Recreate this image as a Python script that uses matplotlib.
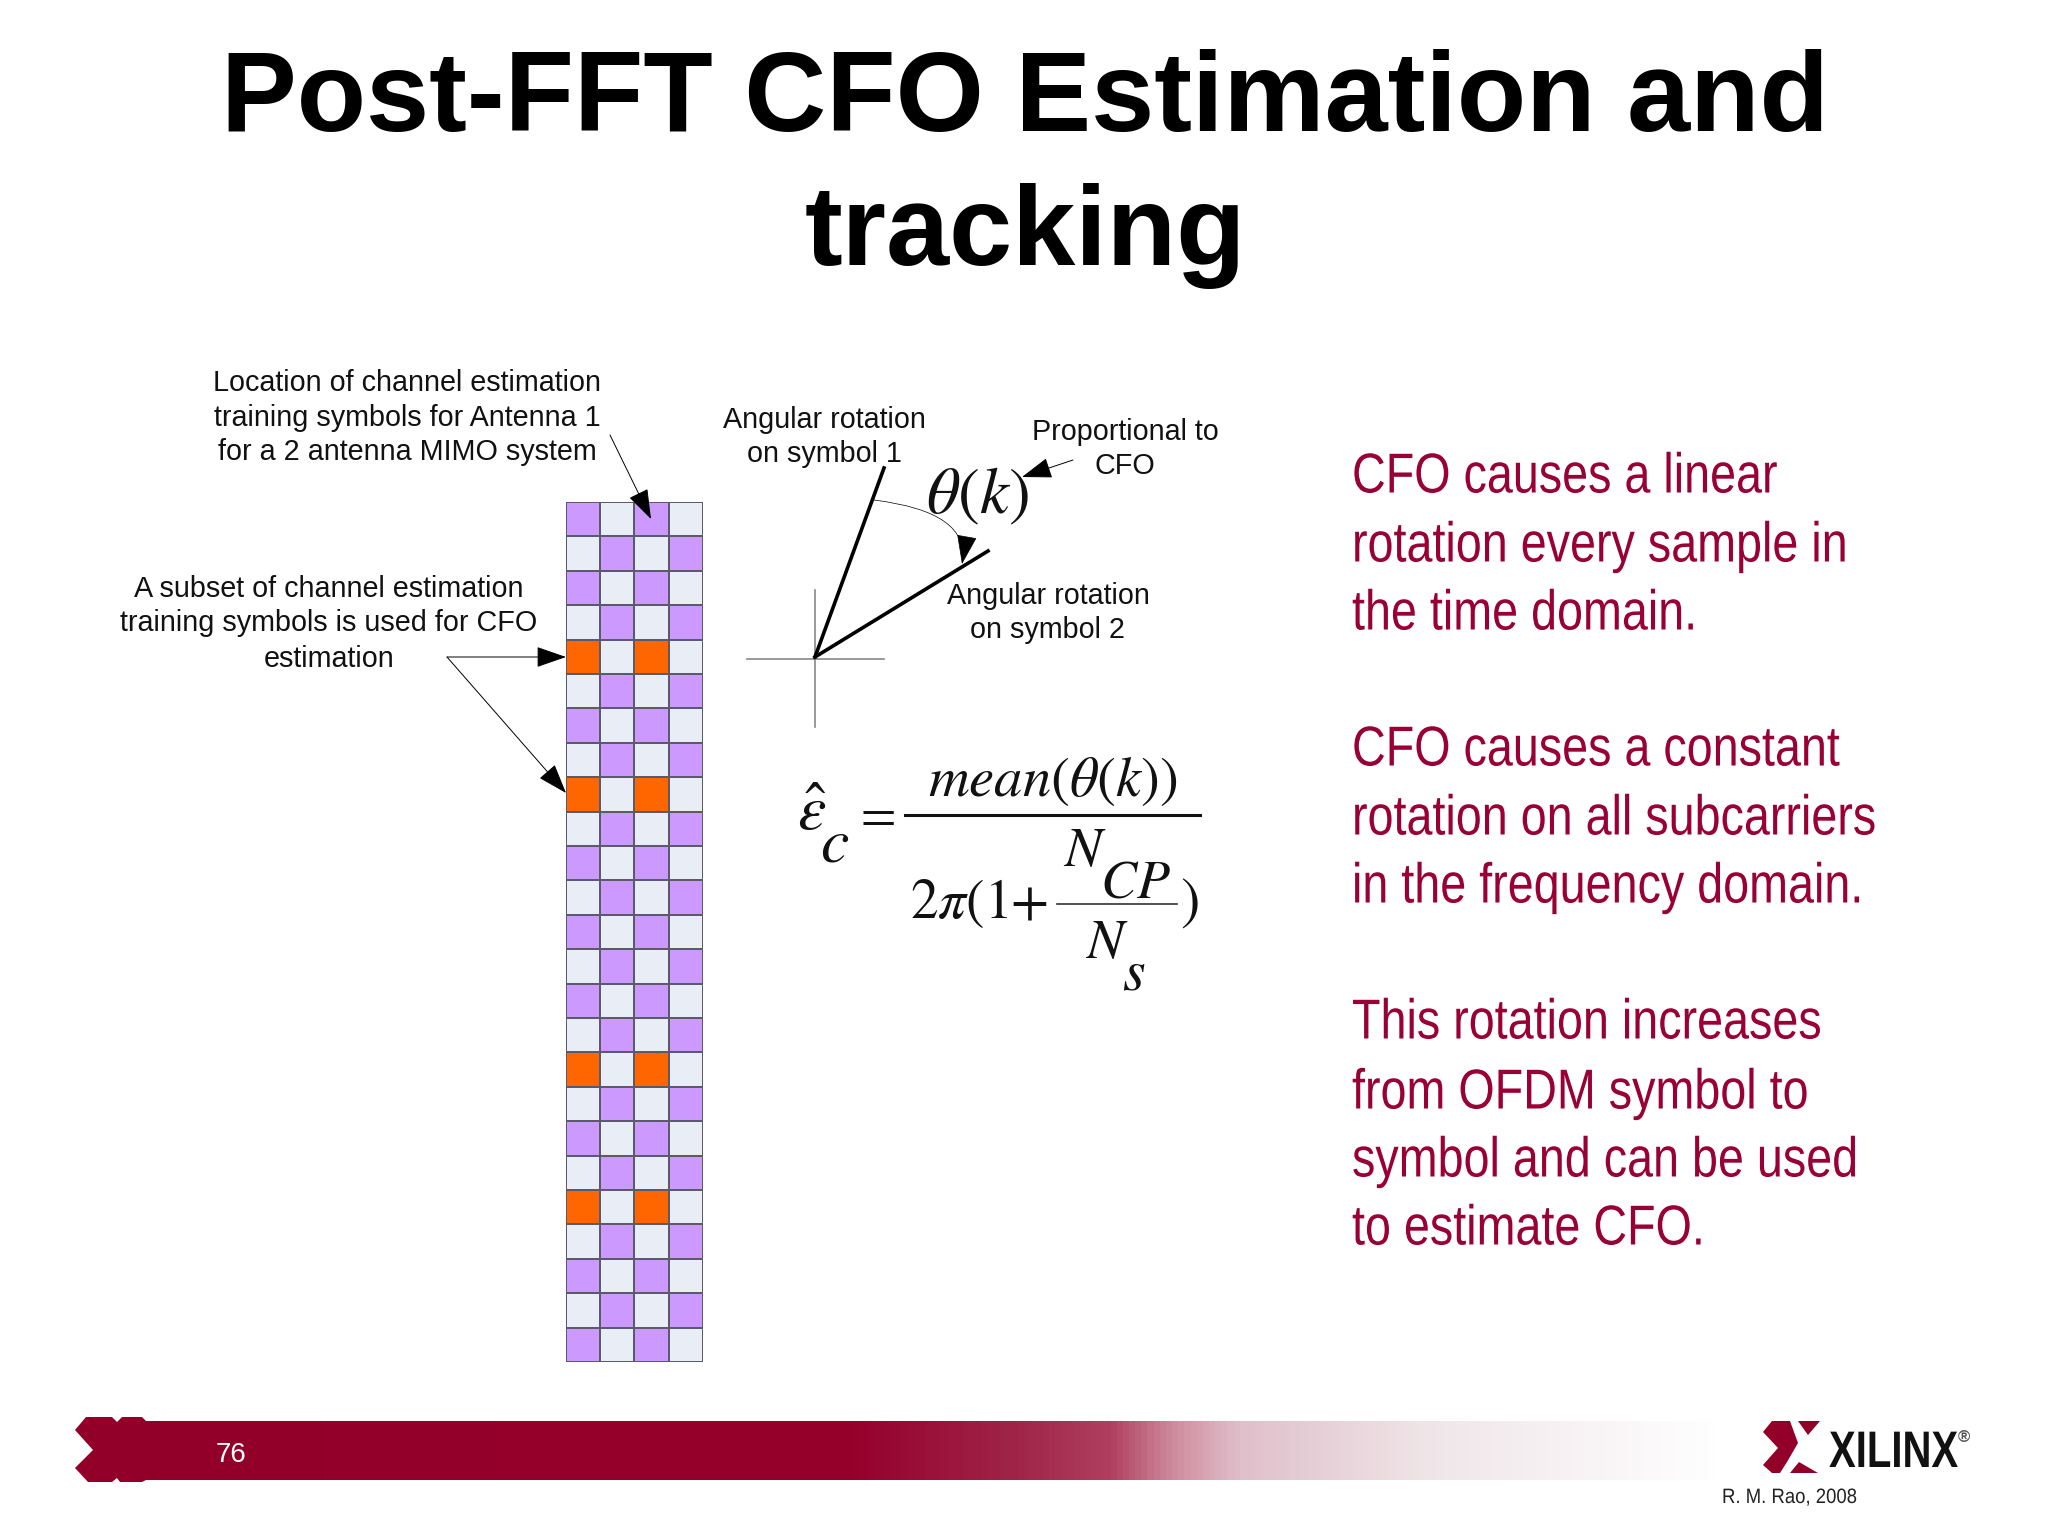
import numpy as np
import matplotlib
matplotlib.use("Agg")
import matplotlib.pyplot as plt
from matplotlib.colors import ListedColormap, LinearSegmentedColormap
from matplotlib.patheffects import AbstractPathEffect
from matplotlib.transforms import Affine2D

# symbol grid, P = pilot/purple, L = empty, O = used for CFO
grid_rows = ["PLPL", "LPLP", "PLPL", "LPLP", "OLOL", "LPLP", "PLPL", "LPLP", "OLOL",
             "LPLP", "PLPL", "LPLP", "PLPL", "LPLP", "PLPL", "LPLP", "OLOL", "LPLP",
             "PLPL", "LPLP", "OLOL", "LPLP", "PLPL", "LPLP", "PLPL"]
cell_colors = {"L": "#E9EDF6", "P": "#CC99FF", "O": "#FF6600"}

title_lines = ["Post-FFT CFO Estimation and", "tracking"]
red_lines = ["CFO causes a linear", "rotation every sample in", "the time domain.",
             "CFO causes a constant", "rotation on all subcarriers", "in the frequency domain.",
             "This rotation increases", "from OFDM symbol to", "symbol and can be used", "to estimate CFO."]
red_baselines = [492.5, 561.5, 629.5, 765.5, 834.5, 902.5, 1038.5, 1108.5, 1176.5, 1244.5]

bar_stops = [(0.0, "#92002A"), (0.448, "#96002B"), (0.556, "#A0254A"), (0.614, "#B0405F"),
             (0.655, "#CF8DA0"), (0.697, "#E0C0CA"), (0.82, "#F0E6E9"), (1.0, "#FFFFFF")]

RED = "#990033"
plt.rcParams["font.family"] = ["Liberation Sans", "DejaVu Sans"]
plt.rcParams["mathtext.fontset"] = "stix"


# no narrow font here, so squeeze the glyphs sideways around the text anchor
class Squeeze(AbstractPathEffect):
    def __init__(self, k):
        super().__init__()
        self.k = k

    def draw_path(self, renderer, gc, tpath, affine, rgbFace=None):
        m = affine.get_matrix().copy()
        m[0, 0] *= self.k
        m[0, 1] *= self.k
        renderer.draw_path(gc, tpath, Affine2D(m), rgbFace)


fig = plt.figure(figsize=(20.48, 15.36), dpi=100, facecolor="white")
ax = fig.add_axes([0, 0, 1, 1], zorder=2)
ax.axis("off")

# footer bar
cmap_bar = LinearSegmentedColormap.from_list("bar", bar_stops)
ax.imshow(np.linspace(0, 1, 512).reshape(1, -1), cmap=cmap_bar, extent=[144, 1720, 1480, 1421], aspect="auto")
ax.set_xlim(0, 2048)
ax.set_ylim(1536, 0)

ax.fill([75, 86, 112, 117, 122, 142, 146, 146, 142, 120, 117, 112, 88, 75, 93],
        [1430, 1417, 1417, 1422, 1417, 1417, 1421, 1480, 1482, 1482, 1478, 1482, 1482, 1468, 1450],
        color="#92002A", lw=0)
ax.text(231, 1462, "76", color="white", fontsize=20, ha="center", va="baseline")

# logo
ax.fill([1763, 1772, 1790, 1798, 1787, 1780, 1772, 1763, 1778], [1432, 1421, 1421, 1443, 1462, 1473, 1473, 1465, 1448],
        color="#92002A", lw=0)
ax.fill([1798, 1820, 1808], [1421, 1421, 1435], color="#92002A", lw=0)
ax.fill([1799, 1818, 1790], [1462, 1473, 1473], color="#92002A", lw=0)
ax.text(1829, 1467, "XILINX", fontsize=37, fontweight="bold", color="#111111", va="baseline",
        path_effects=[Squeeze(0.78)])
ax.text(1958, 1442, "®", fontsize=12, color="#555555", fontweight="bold", va="baseline")
ax.text(1722, 1503, "R. M. Rao, 2008", fontsize=15, color="#222222", va="baseline", path_effects=[Squeeze(0.89)])

# title
ax.text(1025, 131, title_lines[0], fontsize=81.7, fontweight="bold", ha="center", va="baseline", color="black")
ax.text(1025, 265, title_lines[1], fontsize=81.7, fontweight="bold", ha="center", va="baseline", color="black")

# red text block
for line, y in zip(red_lines, red_baselines):
    ax.text(1352, y, line, fontsize=40.5, color=RED, va="baseline", path_effects=[Squeeze(0.83)])

# labels
labels = [(407, 391, "Location of channel estimation"), (407, 426, "training symbols for Antenna 1"),
          (407, 460, "for a 2 antenna MIMO system"), (329, 597, "A subset of channel estimation"),
          (329, 631, "training symbols is used for CFO"), (329, 667, "estimation"),
          (824, 428, "Angular rotation"), (824, 462, "on symbol 1"), (1125, 440, "Proportional to"),
          (1125, 474, "CFO"), (1048, 604, "Angular rotation"), (1048, 638, "on symbol 2")]
for x, y, s in labels:
    ax.text(x, y, s, fontsize=20.7, ha="center", va="baseline", color="#111111")

# symbol grid
ax_grid = fig.add_axes([565.7 / 2048, 1 - 1362 / 1536, 137.4 / 2048, 860 / 1536], zorder=1)
codes = list(cell_colors)
z = np.array([[codes.index(c) for c in row] for row in grid_rows])
ax_grid.pcolormesh(z, cmap=ListedColormap(list(cell_colors.values())), vmin=0, vmax=2,
                   edgecolors="#5A5A6A", linewidth=1.3)
ax_grid.invert_yaxis()
ax_grid.axis("off")

# arrows
head = dict(arrowstyle="-|>,head_length=0.95,head_width=0.33", color="black", lw=0.7, mutation_scale=20, shrinkA=0, shrinkB=0)
for start, tip in [((610, 435), (651, 519)), ((447, 657), (566, 657)), ((447, 657), (566, 793)), ((1073, 460), (1022, 477))]:
    ax.annotate("", xy=tip, xytext=start, arrowprops=head, zorder=5)
ax.annotate("", xy=(962, 564), xytext=(874, 500), zorder=5,
            arrowprops=dict(head, lw=0.5, connectionstyle="angle3,angleA=-7,angleB=80"))

# rotation sketch
ax.plot([815, 815], [590, 727], color="#888888", lw=1.2)
ax.plot([747, 884], [659, 659], color="#888888", lw=1.2)
ax.plot([815, 884], [657, 468], color="black", lw=2.6)
ax.plot([815, 988], [657, 551], color="black", lw=2.6)
ax.text(926, 513, r"$\theta(k)$", fontsize=47, va="baseline", color="#111111")

# equation
eq = [(797, 830, r"$\hat{\varepsilon}$", 46), (820, 862, r"$c$", 46), (853, 829, r"$=$", 37),
      (928, 796, r"$mean(\theta(k))$", 40.7), (1063, 866, r"$N$", 40), (1100, 898, r"$CP$", 39),
      (910, 918, r"$2\pi(1$", 40), (1010, 918, r"$+$", 40), (1180, 918, r"$)$", 42),
      (1085, 958, r"$N$", 40), (1122, 990, r"$s$", 42)]
for x, y, s, fs in eq:
    ax.text(x, y, s, fontsize=fs, va="baseline", color="#111111")
ax.plot([905, 1200], [815, 815], color="#111111", lw=2.2)
ax.plot([1057, 1177], [904, 904], color="#333333", lw=1.2)

fig.savefig("out.png", dpi=100)
